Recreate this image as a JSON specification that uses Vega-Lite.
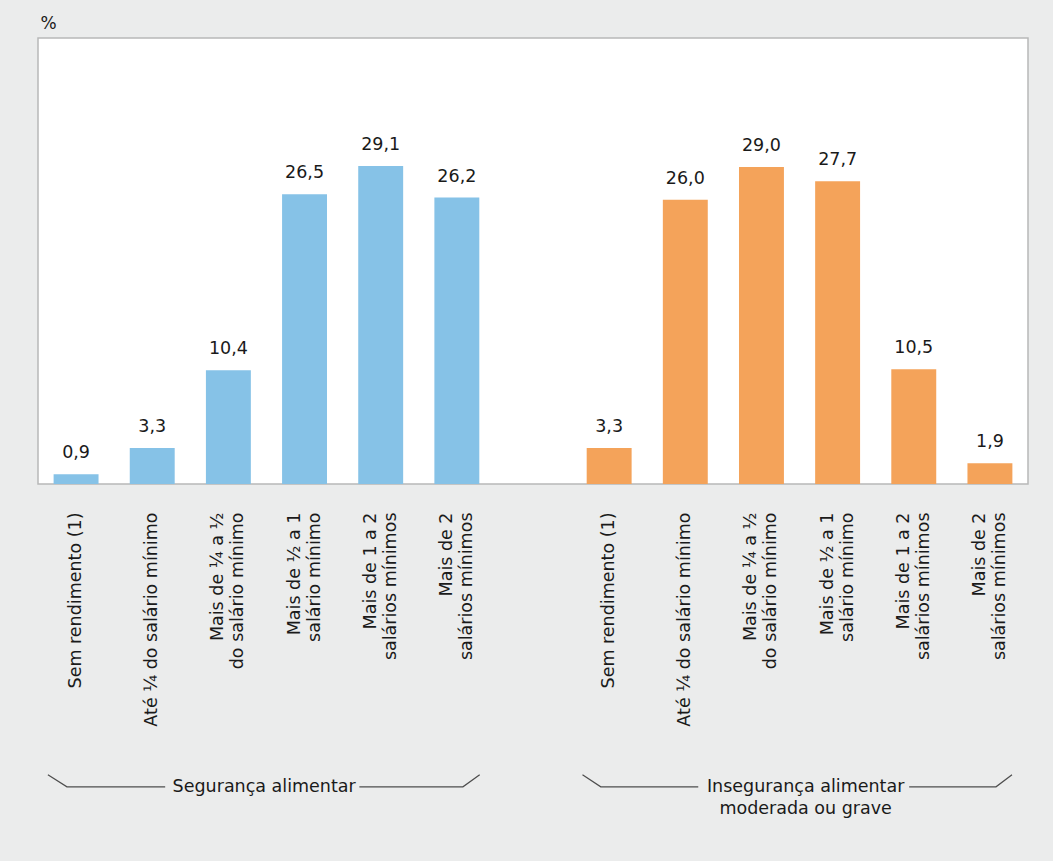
{
  "$schema": "https://vega.github.io/schema/vega-lite/v6.json",
  "width": 990,
  "height": 446,
  "autosize": {"type": "none"},
  "padding": {"left": 38, "top": 38, "right": 25, "bottom": 377},
  "background": "#ebecec",
  "config": {
    "view": {"fill": "white", "stroke": "#b8b8b8", "strokeWidth": 1.5},
    "font": "DejaVu Sans"
  },
  "datasets": {
    "bars": [
      {"cat": "A:Sem rendimento (1)", "group": "Segurança alimentar", "value": 0.9},
      {"cat": "B:Até ¼ do salário mínimo", "group": "Segurança alimentar", "value": 3.3},
      {"cat": "C:Mais de ¼ a ½|do salário mínimo", "group": "Segurança alimentar", "value": 10.4},
      {"cat": "D:Mais de ½ a 1|salário mínimo", "group": "Segurança alimentar", "value": 26.5},
      {"cat": "E:Mais de 1 a 2|salários mínimos", "group": "Segurança alimentar", "value": 29.1},
      {"cat": "F:Mais de 2|salários mínimos", "group": "Segurança alimentar", "value": 26.2},
      {"cat": "H:Sem rendimento (1)", "group": "Insegurança alimentar moderada ou grave", "value": 3.3},
      {"cat": "I:Até ¼ do salário mínimo", "group": "Insegurança alimentar moderada ou grave", "value": 26.0},
      {"cat": "J:Mais de ¼ a ½|do salário mínimo", "group": "Insegurança alimentar moderada ou grave", "value": 29.0},
      {"cat": "K:Mais de ½ a 1|salário mínimo", "group": "Insegurança alimentar moderada ou grave", "value": 27.7},
      {"cat": "L:Mais de 1 a 2|salários mínimos", "group": "Insegurança alimentar moderada ou grave", "value": 10.5},
      {"cat": "M:Mais de 2|salários mínimos", "group": "Insegurança alimentar moderada ou grave", "value": 1.9}
    ],
    "brackets": [
      {"seg": "a1", "pos": 0.13, "level": -26.6},
      {"seg": "a1", "pos": 0.38, "level": -27.7},
      {"seg": "a1", "pos": 1.67, "level": -27.7},
      {"seg": "a2", "pos": 4.22, "level": -27.7},
      {"seg": "a2", "pos": 5.58, "level": -27.7},
      {"seg": "a2", "pos": 5.80, "level": -26.6},
      {"seg": "b1", "pos": 7.15, "level": -26.6},
      {"seg": "b1", "pos": 7.39, "level": -27.7},
      {"seg": "b1", "pos": 8.67, "level": -27.7},
      {"seg": "b2", "pos": 11.44, "level": -27.7},
      {"seg": "b2", "pos": 12.58, "level": -27.7},
      {"seg": "b2", "pos": 12.79, "level": -26.6}
    ],
    "groupLabels": [
      {"pos": 2.97, "level": -28.2, "text": "Segurança alimentar"},
      {"pos": 10.08, "level": -28.2, "text": "Insegurança alimentar"},
      {"pos": 10.08, "level": -30.2, "text": "moderada ou grave"}
    ]
  },
  "layer": [
    {
      "data": {"name": "bars"},
      "encoding": {
        "x": {
          "field": "cat",
          "type": "nominal",
          "scale": {
            "domain": [
              "A:Sem rendimento (1)",
              "B:Até ¼ do salário mínimo",
              "C:Mais de ¼ a ½|do salário mínimo",
              "D:Mais de ½ a 1|salário mínimo",
              "E:Mais de 1 a 2|salários mínimos",
              "F:Mais de 2|salários mínimos",
              "G:",
              "H:Sem rendimento (1)",
              "I:Até ¼ do salário mínimo",
              "J:Mais de ¼ a ½|do salário mínimo",
              "K:Mais de ½ a 1|salário mínimo",
              "L:Mais de 1 a 2|salários mínimos",
              "M:Mais de 2|salários mínimos"
            ],
            "paddingInner": 0.41,
            "paddingOuter": 0.205
          },
          "axis": {
            "title": null,
            "labelAngle": -90,
            "labelExpr": "split(substring(datum.label, 2), '|')",
            "labelFontSize": 17.5,
            "labelColor": "#1a1a1a",
            "labelPadding": 28,
            "labelLineHeight": 20,
            "labelOffset": {"condition": {"test": "indexof(datum.label, '|') >= 0", "value": -10}, "value": 0},
            "labelLimit": 400,
            "labelOverlap": false,
            "ticks": false,
            "domain": false
          }
        },
        "y": {
          "field": "value",
          "type": "quantitative",
          "scale": {"domain": [0, 40.8], "nice": false},
          "axis": {
            "title": "%",
            "titleAngle": 0,
            "titleAlign": "left",
            "titleBaseline": "alphabetic",
            "titleX": 2,
            "titleY": -10,
            "titleFontSize": 17,
            "titleFontWeight": "normal",
            "titleColor": "#1a1a1a",
            "labels": false,
            "ticks": false,
            "domain": false,
            "grid": false
          }
        }
      },
      "layer": [
        {
          "mark": {"type": "bar"},
          "encoding": {
            "color": {
              "field": "group",
              "type": "nominal",
              "scale": {
                "domain": ["Segurança alimentar", "Insegurança alimentar moderada ou grave"],
                "range": ["#86c2e7", "#f4a35a"]
              },
              "legend": null
            }
          }
        },
        {
          "transform": [
            {"calculate": "replace(format(datum.value, '.1f'), '.', ',')", "as": "label"}
          ],
          "mark": {"type": "text", "baseline": "alphabetic", "dy": -16, "fontSize": 17.5, "color": "#1a1a1a"},
          "encoding": {"text": {"field": "label", "type": "nominal"}}
        }
      ]
    },
    {
      "data": {"name": "brackets"},
      "mark": {"type": "line", "color": "#4d4d4d", "strokeWidth": 1.2},
      "encoding": {
        "x": {"field": "pos", "type": "quantitative", "scale": {"domain": [0, 13], "nice": false, "zero": false}, "axis": null},
        "y": {"field": "level", "type": "quantitative", "scale": {"domain": [0, 40.8], "nice": false}, "axis": null},
        "detail": {"field": "seg"}
      }
    },
    {
      "data": {"name": "groupLabels"},
      "mark": {"type": "text", "baseline": "alphabetic", "align": "center", "fontSize": 17.5, "color": "#1a1a1a"},
      "encoding": {
        "x": {"field": "pos", "type": "quantitative", "scale": {"domain": [0, 13], "nice": false, "zero": false}, "axis": null},
        "y": {"field": "level", "type": "quantitative", "scale": {"domain": [0, 40.8], "nice": false}, "axis": null},
        "text": {"field": "text", "type": "nominal"}
      }
    }
  ],
  "resolve": {"scale": {"x": "independent", "y": "independent"}}
}
